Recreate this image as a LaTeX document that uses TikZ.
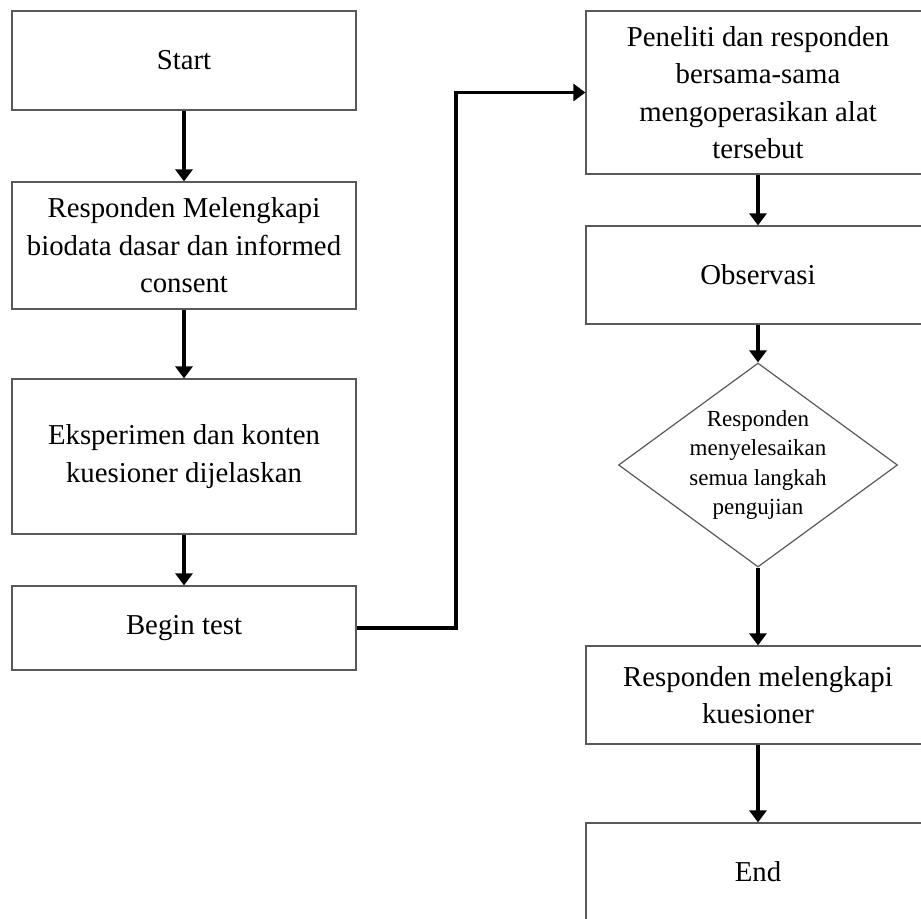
\documentclass[tikz,border=0pt]{standalone}
\usepackage{fontspec}
\setmainfont{Liberation Serif}
\usetikzlibrary{shapes.geometric,arrows.meta}

\begin{document}
\begin{tikzpicture}[x=0.5pt,y=-0.5pt,
	stepbox/.style={draw=black!65, line width=0.6pt, minimum width=172pt, align=center,
		font=\fontsize{14.4}{18.75}\selectfont, inner sep=0pt},
	decision/.style={draw=black!65, line width=0.6pt, diamond, minimum width=139.5pt,
		minimum height=102pt, inner sep=0pt},
	smalltext/.style={align=center, font=\fontsize{11.5}{14.75}\selectfont, inner sep=0pt},
	flow/.style={draw=black, line width=1.8pt, -{Triangle[width=8.5pt,length=6pt]}}]
	\useasboundingbox (0,0) rectangle (921,918);
	\clip (0,0) rectangle (921,918);
	% left column
	\node [stepbox, minimum height=49.5pt] (start) at (184,60.5) {Start};
	\node [stepbox, minimum height=63.5pt] (biodata) at (184,245.5) {Responden Melengkapi\\biodata dasar dan informed\\consent};
	\node [stepbox, minimum height=77.5pt] (explain) at (184,456.5) {Eksperimen dan konten\\kuesioner dijelaskan};
	\node [stepbox, minimum height=42pt] (begin) at (184,628) {Begin test};
	% right column
	\node [stepbox, minimum height=81.5pt] (operate) at (758,92.5) {Peneliti dan responden\\bersama-sama\\mengoperasikan alat\\tersebut};
	\node [stepbox, minimum height=49pt] (observe) at (758,275) {Observasi};
	\node [decision, label={[smalltext]center:Responden\\menyelesaikan\\semua langkah\\pengujian}] (check) at (758,465) {};
	\node [stepbox, minimum height=49pt] (fill) at (758,695) {Responden melengkapi\\kuesioner};
	\node [stepbox, minimum height=49pt] (finish) at (758,872) {End};
	\coordinate (bend) at (456,628);
	% connectors
	\draw [flow] (start) -- (biodata);
	\draw [flow] (biodata) -- (explain);
	\draw [flow] (explain) -- (begin);
	\draw [flow] (begin.east) -- (bend) |- (operate.west);
	\draw [flow] (operate) -- (observe);
	\draw [flow] (observe) -- (check);
	\draw [flow] (check) -- (fill);
	\draw [flow] (fill) -- (finish);
\end{tikzpicture}
\end{document}
